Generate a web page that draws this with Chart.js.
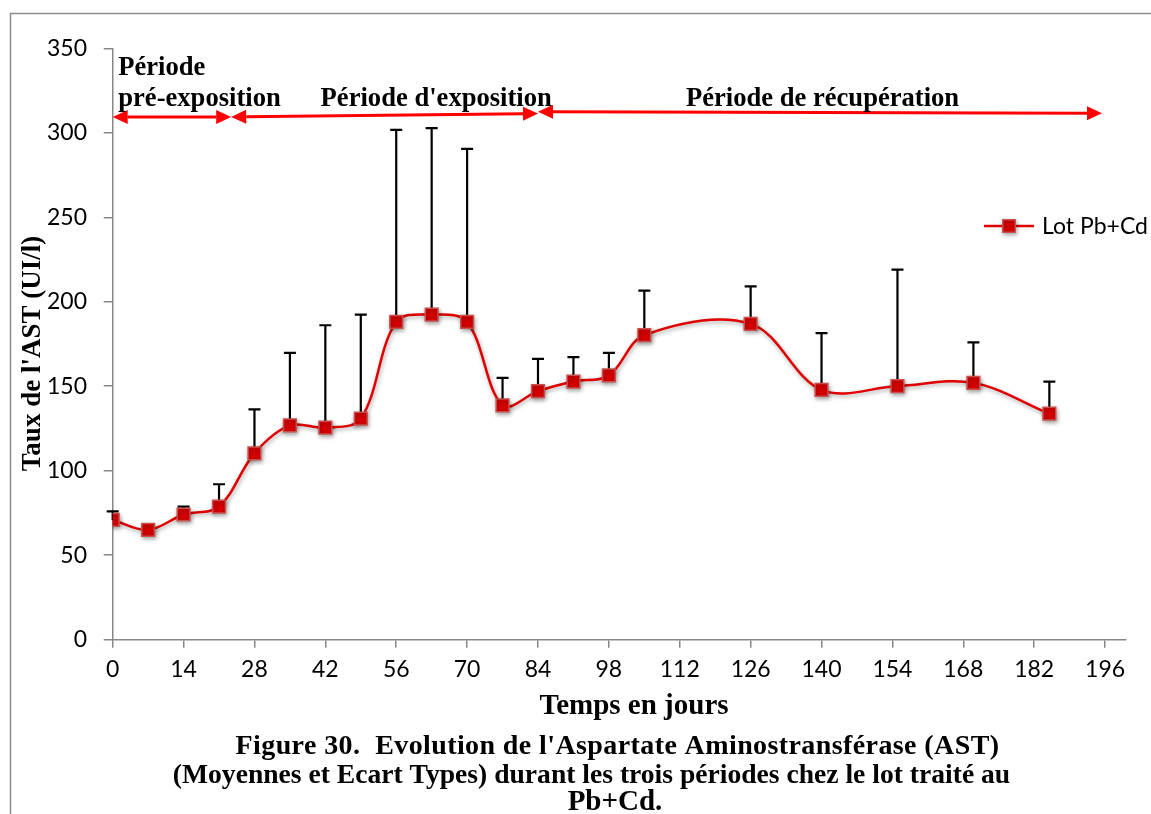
<!DOCTYPE html>
<html>
<head>
<meta charset="utf-8">
<script src="https://cdn.jsdelivr.net/npm/chart.js@4.4.1/dist/chart.umd.min.js"></script>
<style>
  html, body { margin: 0; padding: 0; background: #fff; }
  canvas { display: block; }
</style>
</head>
<body>
<canvas id="astChart" width="1151" height="814"></canvas>
<script>
// Sampling days and AST measurements (mean and standard deviation, UI/l)
const days = [0, 7, 14, 21, 28, 35, 42, 49, 56, 63, 70, 77, 84, 91, 98, 105, 126, 140, 155, 170, 185];
const astMean = [70.9, 65.0, 74.1, 78.8, 110.3, 126.8, 125.5, 130.8, 188.1, 192.4, 188.1, 138.7, 147.1, 152.8, 156.4, 180.2, 186.9, 147.8, 150.1, 152.0, 133.8];
const astSD = [5.0, 0, 4.7, 13.2, 26.0, 43.0, 60.6, 61.6, 113.6, 110.3, 102.4, 16.3, 19.1, 14.4, 13.4, 26.4, 22.2, 33.6, 68.9, 24.0, 18.9];

// Axis ticks
const xTickValues = [0, 14, 28, 42, 56, 70, 84, 98, 112, 126, 140, 154, 168, 182, 196];
const yTickValues = [0, 50, 100, 150, 200, 250, 300, 350];

// Texts
const seriesName = 'Lot Pb+Cd';
const xTitle = 'Temps en jours';
const yTitle = "Taux de l'AST (UI/l)";
const captionLines = [
  "Figure 30.  Evolution de l'Aspartate Aminostransférase (AST)",
  "(Moyennes et Ecart Types) durant les trois périodes chez le lot traité au",
  "Pb+Cd."
];

// Study periods (days) and the arrows marking them
const periodLabels = [['Période', 'pré-exposition'], ["Période d'exposition"], ['Période de récupération']];
const periodStart = [0, 23.4, 84];
const periodEnd = [23.4, 84, 195.4];
const arrowStartLevel = [309.4, 309.4, 312.4];
const arrowEndLevel = [309.4, 311.4, 311.6];

const RED = '#e00000';
const AXIS_GREY = '#878787';
const SERIF = '"Liberation Serif", "Times New Roman", serif';

function drawMarker(ctx, x, y, size) {
  ctx.fillStyle = '#d60000';
  ctx.strokeStyle = '#c8504e';
  ctx.lineWidth = 1.5;
  ctx.beginPath();
  ctx.rect(x - size / 2, y - size / 2, size, size);
  ctx.fill();
  ctx.stroke();
}

function drawArrow(ctx, x1, y1, x2, y2) {
  const head = 15, half = 7;
  const ang = Math.atan2(y2 - y1, x2 - x1);
  const cos = Math.cos(ang), sin = Math.sin(ang);
  ctx.strokeStyle = '#ff0000';
  ctx.fillStyle = '#ff0000';
  ctx.lineWidth = 3;
  ctx.beginPath();
  ctx.moveTo(x1 + cos * head, y1 + sin * head);
  ctx.lineTo(x2 - cos * head, y2 - sin * head);
  ctx.stroke();
  // heads at both ends
  [[x1, y1, -1], [x2, y2, 1]].forEach(([x, y, dir]) => {
    const bx = x - dir * cos * head, by = y - dir * sin * head;
    ctx.beginPath();
    ctx.moveTo(x, y);
    ctx.lineTo(bx - sin * half, by + cos * half);
    ctx.lineTo(bx + sin * half, by - cos * half);
    ctx.closePath();
    ctx.fill();
  });
}

const decorations = {
  id: 'decorations',
  beforeDraw(chart) {
    const { ctx, width, height } = chart;
    ctx.save();
    ctx.fillStyle = '#ffffff';
    ctx.fillRect(0, 0, width, height);
    ctx.strokeStyle = '#8c8c8c';
    ctx.lineWidth = 1.5;
    ctx.beginPath();
    ctx.moveTo(10.5, height);
    ctx.lineTo(10.5, 13.5);
    ctx.lineTo(width + 5, 13.5);
    ctx.stroke();
    ctx.restore();
  },
  beforeDatasetsDraw(chart) {
    // upward standard-deviation bars
    const { ctx, scales: { x, y } } = chart;
    ctx.save();
    ctx.strokeStyle = '#000';
    ctx.lineWidth = 2.2;
    days.forEach((d, i) => {
      if (!astSD[i]) return;
      const px = x.getPixelForValue(d);
      const py0 = y.getPixelForValue(astMean[i]);
      const py1 = y.getPixelForValue(astMean[i] + astSD[i]);
      ctx.beginPath();
      ctx.moveTo(px, py0);
      ctx.lineTo(px, py1);
      ctx.moveTo(px - 6, py1);
      ctx.lineTo(px + 6, py1);
      ctx.stroke();
    });
    ctx.restore();
  },
  beforeDatasetDraw(chart) {
    const ctx = chart.ctx;
    ctx.save();
    ctx.shadowColor = 'rgba(0,0,0,0.35)';
    ctx.shadowBlur = 4;
    ctx.shadowOffsetX = 1;
    ctx.shadowOffsetY = 2;
  },
  afterDatasetDraw(chart) {
    chart.ctx.restore();
  },
  afterDraw(chart) {
    const { ctx, scales: { x, y } } = chart;
    ctx.save();

    // period arrows
    periodStart.forEach((s, i) => {
      drawArrow(ctx,
        x.getPixelForValue(s), y.getPixelForValue(arrowStartLevel[i]),
        x.getPixelForValue(periodEnd[i]), y.getPixelForValue(arrowEndLevel[i]));
    });

    // period labels
    ctx.fillStyle = '#000';
    ctx.font = 'bold 26.6px ' + SERIF;
    ctx.textBaseline = 'alphabetic';
    ctx.textAlign = 'left';
    ctx.fillText(periodLabels[0][0], x.getPixelForValue(1.1), y.getPixelForValue(334.2));
    ctx.fillText(periodLabels[0][1], x.getPixelForValue(1.1), y.getPixelForValue(316.0));
    ctx.textAlign = 'center';
    ctx.fillText(periodLabels[1][0], x.getPixelForValue(63.9), y.getPixelForValue(316.0));
    ctx.fillText(periodLabels[2][0], x.getPixelForValue(140.2), y.getPixelForValue(316.0));

    // axis titles
    ctx.font = 'bold 29px ' + SERIF;
    ctx.textAlign = 'center';
    ctx.textBaseline = 'alphabetic';
    ctx.fillText(xTitle, 634, 714);
    ctx.save();
    ctx.translate(32.7, 353.5);
    ctx.rotate(-Math.PI / 2);
    ctx.font = 'bold 27px ' + SERIF;
    ctx.textBaseline = 'middle';
    ctx.fillText(yTitle, 0, 0);
    ctx.restore();

    // legend
    const ly = 226;
    ctx.strokeStyle = RED;
    ctx.lineWidth = 2.5;
    ctx.beginPath();
    ctx.moveTo(984, ly);
    ctx.lineTo(1034, ly);
    ctx.stroke();
    ctx.save();
    ctx.shadowColor = 'rgba(0,0,0,0.35)';
    ctx.shadowBlur = 4;
    ctx.shadowOffsetX = 1;
    ctx.shadowOffsetY = 2;
    drawMarker(ctx, 1009, ly, 12.5);
    ctx.restore();
    ctx.fillStyle = '#000';
    ctx.font = '23px Lato, "Open Sans", sans-serif';
    ctx.textAlign = 'left';
    ctx.textBaseline = 'middle';
    ctx.fillText(chart.data.datasets[0].label, 1042, ly + 1);

    // figure caption
    ctx.font = 'bold 28px ' + SERIF;
    ctx.textAlign = 'center';
    ctx.textBaseline = 'alphabetic';
    ctx.letterSpacing = '0.4px';
    ctx.fillText(captionLines[0], 617.5, 754);
    ctx.letterSpacing = '0px';
    ctx.font = 'bold 27.6px ' + SERIF;
    ctx.fillText(captionLines[1], 591.5, 783);
    ctx.font = 'bold 29px ' + SERIF;
    ctx.fillText(captionLines[2], 615, 810);

    ctx.restore();
  }
};

new Chart(document.getElementById('astChart'), {
  type: 'line',
  data: {
    datasets: [{
      label: seriesName,
      data: days.map((d, i) => ({ x: d, y: astMean[i] })),
      borderColor: RED,
      borderWidth: 2.5,
      tension: 0.35,
      fill: false,
      pointStyle: 'rect',
      pointRadius: 9,
      pointBackgroundColor: '#d60000',
      pointBorderColor: '#c8504e',
      pointBorderWidth: 1.5
    }]
  },
  options: {
    responsive: false,
    animation: false,
    devicePixelRatio: 1,
    layout: { padding: { left: 0, top: 48.3, right: 25.7, bottom: 90.3 } },
    plugins: { legend: { display: false }, tooltip: { enabled: false } },
    scales: {
      x: {
        type: 'linear',
        min: 0,
        max: 200,
        afterBuildTicks: s => { s.ticks = xTickValues.map(v => ({ value: v })); },
        afterFit: s => { s.height = 84; },
        grid: { drawOnChartArea: false, drawTicks: true, tickLength: 8, color: AXIS_GREY, lineWidth: 1.5 },
        border: { color: AXIS_GREY, width: 1.5 },
        ticks: { font: { family: 'Lato', size: 23 }, color: '#000', padding: 8, maxRotation: 0, autoSkip: false },
        title: { display: false, text: xTitle }
      },
      y: {
        min: 0,
        max: 350,
        afterBuildTicks: s => { s.ticks = yTickValues.map(v => ({ value: v })); },
        afterFit: s => { s.width = 112.7; },
        grid: { drawOnChartArea: false, drawTicks: true, tickLength: 9, color: AXIS_GREY, lineWidth: 1.5 },
        border: { color: AXIS_GREY, width: 1.5 },
        ticks: { font: { family: 'Lato', size: 23 }, color: '#000', padding: 16.7 },
        title: { display: false, text: yTitle }
      }
    }
  },
  plugins: [decorations]
});
</script>
</body>
</html>
